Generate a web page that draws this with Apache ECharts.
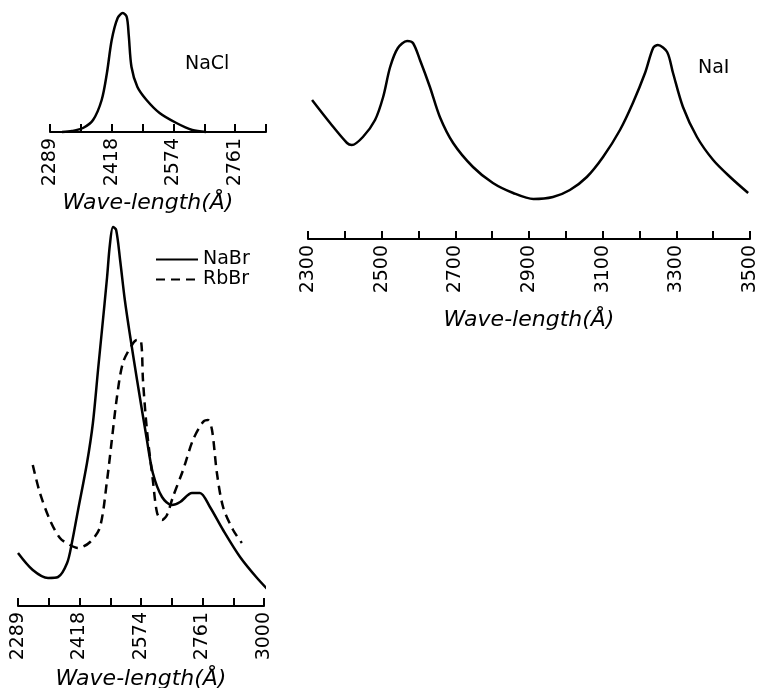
<!DOCTYPE html>
<html>
<head>
<meta charset="utf-8">
<script src="https://cdn.jsdelivr.net/npm/echarts@6/dist/echarts.min.js"></script>
<style>
  html, body { margin: 0; padding: 0; background: #fff; }
  #chart { width: 758px; height: 688px; }
</style>
</head>
<body>
<div id="chart"></div>
<script>
// tick labels (the printed axes are evenly spaced between these labels)
const naclTicks = [2289, 2418, 2574, 2761]
const nabrTicks = [2289, 2418, 2574, 2761, 3000]
const naiMin = 2300
const naiMax = 3500

// NaCl absorption curve
const naclWave = [2314, 2335, 2358, 2379, 2397, 2408, 2418, 2433, 2446, 2456, 2461, 2468, 2483, 2506, 2539, 2583, 2631, 2673]
const naclAbs = [0, 1, 4, 12, 32, 59, 92, 114, 119, 115, 97, 65, 45, 32, 19, 9, 2, 0]

// NaI absorption curve
const naiWave = [2311, 2360, 2406, 2419, 2449, 2482, 2504, 2523, 2544, 2569, 2585, 2604, 2631, 2658, 2694, 2748, 2802, 2857, 2912, 2965, 3011, 3057, 3101, 3147, 3182, 3215, 3237, 3250, 3275, 3291, 3318, 3356, 3400, 3446, 3495]
const naiAbs = [139, 116, 96, 94, 102, 119, 142, 172, 191, 198, 196, 179, 152, 122, 96, 72, 56, 46, 40, 42, 49, 62, 82, 109, 136, 166, 191, 194, 187, 166, 132, 102, 79, 62, 46]

// NaBr (solid) and RbBr (dashed)
const nabrWave = [2289, 2320, 2352, 2373, 2392, 2402, 2415, 2437, 2452, 2465, 2475, 2488, 2495, 2503, 2511, 2521, 2533, 2546, 2564, 2592, 2610, 2638, 2668, 2693, 2729, 2753, 2790, 2841, 2907, 2973, 3035]
const nabrAbs = [53, 36, 28, 29, 43, 63, 96, 143, 183, 236, 276, 329, 361, 379, 376, 346, 306, 271, 226, 166, 133, 109, 101, 104, 113, 113, 99, 76, 49, 28, 11]
const rbbrWave = [2320, 2335, 2356, 2377, 2398, 2415, 2445, 2470, 2488, 2500, 2513, 2528, 2551, 2564, 2574, 2580, 2592, 2610, 2623, 2638, 2653, 2671, 2702, 2732, 2763, 2782, 2798, 2817, 2841, 2880, 2914]
const rbbrAbs = [141, 113, 86, 68, 61, 58, 64, 79, 126, 166, 209, 243, 261, 266, 265, 226, 176, 126, 93, 86, 91, 109, 136, 166, 184, 186, 176, 133, 99, 76, 63]

// position on an evenly spaced label axis (linear between labels)
const toAxis = (wl, ticks) => {
  let k = 0
  while (k < ticks.length - 2 && wl > ticks[k + 1]) k++
  return k + (wl - ticks[k]) / (ticks[k + 1] - ticks[k])
}
const pairs = (xs, ys, ticks) => xs.map((w, i) => [ticks ? toAxis(w, ticks) : w, ys[i]])

const chart = echarts.init(document.getElementById('chart'))

const font = 'DejaVu Sans'
const axisCommon = {
  type: 'value',
  axisLine: { show: true, onZero: false, lineStyle: { color: '#000', width: 2 } },
  axisTick: { show: true, inside: true, length: 8, lineStyle: { color: '#000', width: 2 } },
  splitLine: { show: false },
  nameLocation: 'middle',
  nameTextStyle: { color: '#000', fontFamily: font, fontStyle: 'italic', fontSize: 22 }
}
const labelCommon = { rotate: 90, margin: 6, color: '#000', fontFamily: font, fontSize: 19, showMaxLabel: true, showMinLabel: true }
const hiddenY = (max, idx) => ({ type: 'value', gridIndex: idx, min: 0, max: max, show: false })
const lineCommon = {
  type: 'line', showSymbol: false, symbol: 'none', smooth: 0.3, clip: false,
  silent: true
}

chart.setOption({
  animation: false,
  backgroundColor: '#fff',
  grid: [
    { left: 50, top: 12, width: 216, height: 120, outerBoundsMode: 'none' },
    { left: 308, top: 39, width: 442, height: 200, outerBoundsMode: 'none' },
    { left: 18, top: 226, width: 246, height: 380, outerBoundsMode: 'none' }
  ],
  xAxis: [
    Object.assign({}, axisCommon, {
      gridIndex: 0, min: 0, max: 3.5, interval: 0.5,
      name: 'Wave-length(Å)', nameGap: 60,
      nameTextStyle: Object.assign({}, axisCommon.nameTextStyle, { padding: [0, 20, 0, 0] }),
      axisLabel: Object.assign({}, labelCommon, {
        formatter: v => Number.isInteger(v) && naclTicks[v] !== undefined ? String(naclTicks[v]) : ''
      })
    }),
    Object.assign({}, axisCommon, {
      gridIndex: 1, min: naiMin, max: naiMax, interval: 100,
      name: 'Wave-length(Å)', nameGap: 70,
      axisLabel: Object.assign({}, labelCommon, {
        formatter: v => (v - naiMin) % 200 === 0 ? String(v) : ''
      })
    }),
    Object.assign({}, axisCommon, {
      gridIndex: 2, min: 0, max: 4, interval: 0.5,
      name: 'Wave-length(Å)', nameGap: 60,
      axisLabel: Object.assign({}, labelCommon, {
        formatter: v => Number.isInteger(v) && nabrTicks[v] !== undefined ? String(nabrTicks[v]) : ''
      })
    })
  ],
  yAxis: [hiddenY(120, 0), hiddenY(200, 1), hiddenY(380, 2)],
  title: [
    { text: 'NaCl', left: 180, top: 50, textStyle: { fontFamily: font, fontWeight: 'normal', fontSize: 19, color: '#000' } },
    { text: 'NaI', left: 693, top: 54, textStyle: { fontFamily: font, fontWeight: 'normal', fontSize: 19, color: '#000' } }
  ],
  legend: {
    data: ['NaBr', 'RbBr'],
    orient: 'vertical',
    left: 150, top: 245,
    itemWidth: 42, itemHeight: 14, itemGap: 1,
    itemStyle: { opacity: 0 },
    textStyle: { fontFamily: font, fontSize: 19, color: '#000' }
  },
  series: [
    Object.assign({}, lineCommon, {
      name: 'NaCl', xAxisIndex: 0, yAxisIndex: 0,
      data: pairs(naclWave, naclAbs, naclTicks),
      lineStyle: { color: '#000', width: 2.5 }
    }),
    Object.assign({}, lineCommon, {
      name: 'NaI', xAxisIndex: 1, yAxisIndex: 1,
      data: pairs(naiWave, naiAbs, null),
      lineStyle: { color: '#000', width: 2.5 }
    }),
    Object.assign({}, lineCommon, {
      name: 'NaBr', xAxisIndex: 2, yAxisIndex: 2,
      data: pairs(nabrWave, nabrAbs, nabrTicks),
      color: '#000',
      lineStyle: { color: '#000', width: 2.5 }
    }),
    Object.assign({}, lineCommon, {
      name: 'RbBr', xAxisIndex: 2, yAxisIndex: 2,
      data: pairs(rbbrWave, rbbrAbs, nabrTicks),
      color: '#000',
      lineStyle: { color: '#000', width: 2.5, type: [9, 6] }
    })
  ]
})
</script>
</body>
</html>
